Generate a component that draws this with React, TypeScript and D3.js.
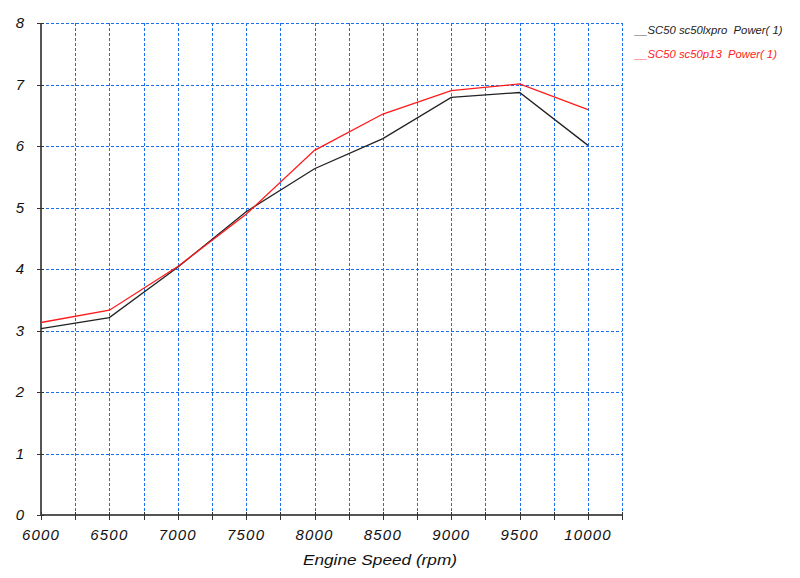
import React from "react";
import * as d3 from "d3";

const rpm = [6000, 6500, 7000, 7500, 8000, 8500, 9000, 9500, 10000];
const powerLxpro = [3.03, 3.21, 4.03, 4.93, 5.63, 6.12, 6.79, 6.87, 6.01];
const powerP13 = [3.13, 3.33, 4.04, 4.89, 5.93, 6.52, 6.9, 7.01, 6.59];
const xTickLabels = [6000, 6500, 7000, 7500, 8000, 8500, 9000, 9500, 10000];
const yTickLabels = [0, 1, 2, 3, 4, 5, 6, 7, 8];
const seriesNames = ["__SC50 sc50lxpro  Power( 1)", "__SC50 sc50p13  Power( 1)"];
const seriesColors = ["#222222", "#ff1a1a"];

export default function App() {
  const W = 800, H = 578;
  const x = d3.scaleLinear().domain([6000, 10000]).range([41, 588]);
  const y = d3.scaleLinear().domain([0, 8]).range([515, 23]);
  const xMinor = d3.range(6250, 10251, 250);
  const xAll = d3.range(6000, 10251, 250);
  const line = d3.line<number>().x((_, i) => x(rpm[i])).y((d) => y(d));
  const font = "'Liberation Sans', Arial, sans-serif";
  const grid = "#1a6ff0";
  const axisCol = "#555555";
  const px = (v: number) => Math.round(v) + 0.5;
  return (
    <svg width={W} height={H} style={{ position: "absolute", left: 0, top: 0, background: "#fff" }}>
      <rect width={W} height={H} fill="#fff" />
      {/* grid */}
      {xMinor.map((v) => (
        <line key={"gx" + v} x1={px(x(v))} x2={px(x(v))} y1={y(8)} y2={y(0)} stroke={grid} strokeWidth={1} strokeDasharray="3,2" />
      ))}
      {yTickLabels.slice(1).map((v) => (
        <line key={"gy" + v} x1={x(6000)} x2={x(10250)} y1={px(y(v))} y2={px(y(v))} stroke={grid} strokeWidth={1} strokeDasharray="3,2" />
      ))}
      {/* axes */}
      <line x1={x(6000)} x2={x(6000)} y1={y(8)} y2={y(0)} stroke={axisCol} strokeWidth={2} />
      <line x1={x(6000)} x2={x(10250)} y1={y(0)} y2={y(0)} stroke={axisCol} strokeWidth={2} />
      {yTickLabels.map((v) => (
        <line key={"ty" + v} x1={x(6000) - 4} x2={x(6000) + 3} y1={px(y(v))} y2={px(y(v))} stroke="#333" strokeWidth={1} />
      ))}
      {xAll.map((v) => (
        <line key={"tx" + v} x1={px(x(v))} x2={px(x(v))} y1={y(0) - 3} y2={y(0) + 5} stroke="#333" strokeWidth={1} />
      ))}
      {yTickLabels.map((v) => (
        <text key={"ly" + v} x={20} y={y(v) + 5} fontFamily={font} fontStyle="italic" fontSize={15} textAnchor="middle" fill="#111">
          {v}
        </text>
      ))}
      {xTickLabels.map((v) => (
        <text key={"lx" + v} x={x(v)} y={540} fontFamily={font} fontStyle="italic" fontSize={15} textAnchor="middle" fill="#111" letterSpacing={1.2}>
          {v}
        </text>
      ))}
      <text x={303} y={565} fontFamily={font} fontStyle="italic" fontSize={15} fill="#111" textLength={154} lengthAdjust="spacingAndGlyphs">
        Engine Speed (rpm)
      </text>
      {/* series */}
      <path d={line(powerLxpro) || ""} fill="none" stroke={seriesColors[0]} strokeWidth={1.3} />
      <path d={line(powerP13) || ""} fill="none" stroke={seriesColors[1]} strokeWidth={1.3} />
      {/* legend */}
      {seriesNames.map((n, i) => (
        <text key={n} x={635} y={34 + i * 24} fontFamily={font} fontStyle="italic" fontSize={11.3} fill={seriesColors[i]} style={{ whiteSpace: "pre" }}>
          {n}
        </text>
      ))}
    </svg>
  );
}
